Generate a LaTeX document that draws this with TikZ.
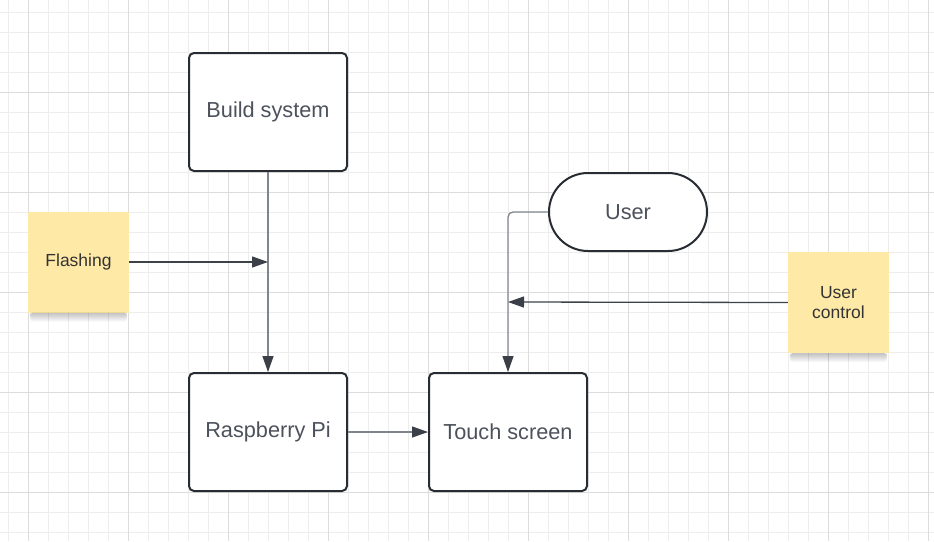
\documentclass[tikz,border=0pt]{standalone}
\usepackage{fontspec}
\setmainfont{Liberation Sans}
\usetikzlibrary{arrows.meta}
\definecolor{gridminor}{HTML}{EDEDED}
\definecolor{gridmajor}{HTML}{DCDCDC}
\definecolor{border}{HTML}{282C33}
\definecolor{nodetext}{HTML}{4C525B}
\definecolor{stickytext}{HTML}{333333}
\definecolor{sticky}{HTML}{FEE9A6}
\definecolor{conngray}{HTML}{80858D}
\definecolor{conndark}{HTML}{3D424A}
\definecolor{tipcol}{HTML}{3A3F48}
\tikzset{
  box/.style={draw=border, line width=2pt, fill=white, rounded corners=5pt,
    minimum width=158pt, minimum height=118pt, inner sep=0pt,
    text=nodetext, font=\fontsize{21.7}{26}\selectfont},
  pill/.style={draw=border, line width=2pt, fill=white, rounded corners=39pt,
    minimum width=158pt, minimum height=78pt, inner sep=0pt,
    text=nodetext, font=\fontsize{21.7}{26}\selectfont},
  note/.style={fill=sticky, minimum width=101pt, minimum height=101pt, inner sep=0pt,
    text=stickytext, align=center, font=\fontsize{17.5}{20.7}\selectfont},
  shade strip/.style={fill=black, opacity=0.028},
  graylink/.style={line width=1.3pt, draw=conngray,
    -{Triangle[length=16pt,width=11pt,fill=tipcol,color=tipcol]}},
  darklink/.style={line width=1.3pt, draw=conndark,
    -{Triangle[length=16pt,width=11pt,fill=tipcol,color=tipcol]}},
}
\begin{document}
\begin{tikzpicture}[x=1pt,y=-1pt]
\useasboundingbox (0,0) rectangle (934,541);
\fill[white] (0,0) rectangle (934,541);
% grid
\foreach \x in {8,28,...,934} \draw[gridminor, line width=1pt] (\x,0) -- (\x,541);
\foreach \y in {12,32,...,541} \draw[gridminor, line width=1pt] (0,\y) -- (934,\y);
\foreach \x in {28,128,...,934} \draw[gridmajor, line width=1pt] (\x,0) -- (\x,541);
\foreach \y in {92,192,...,541} \draw[gridmajor, line width=1pt] (0,\y) -- (934,\y);
% nodes
\node[box] (build) at (268,112) {Build system};
\node[box] (pi) at (268,432) {Raspberry Pi};
\node[box] (touch) at (508,432) {Touch screen};
\node[pill] (user) at (628,212) {User};
\node[note] (flash) at (78.5,262) {Flashing};
\node[note] (uc) at (838.5,302.5) {User\\control};
% sticky-note shadows
\foreach \n in {flash,uc}{
  \foreach \d in {1,...,9}{
    \fill[shade strip, rounded corners=3pt]
      ([xshift=2pt]\n.south west) rectangle ([xshift=-2pt,yshift=-\d pt]\n.south east);
  }
}
\coordinate (j1) at (268,262);
\coordinate (j2) at (508,302);
% connectors
\draw[graylink] (build.south) -- (pi.north);
\draw[darklink] (flash.east) -- (j1);
\draw[graylink, rounded corners=5pt] (user.west) -| (touch.north);
\draw[darklink] (uc.west) -- (j2);
\draw[graylink] (pi.east) -- (touch.west);
\end{tikzpicture}
\end{document}
